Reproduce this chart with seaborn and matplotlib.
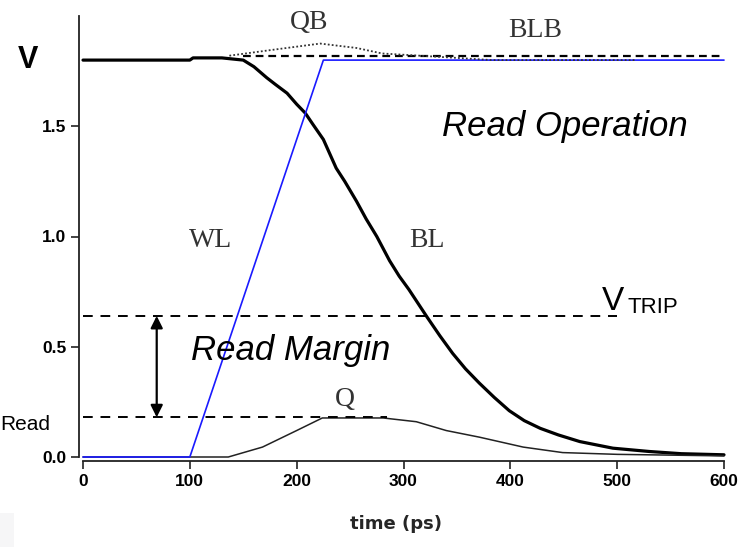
import matplotlib
matplotlib.use("Agg")
import matplotlib.pyplot as plt
import seaborn as sns
import pandas as pd

# --- data ---
wl_t = [0, 100, 225, 600]
wl_v = [0.0, 0.0, 1.80, 1.80]

bl_t = [0, 100, 103, 130, 150, 160, 172, 180, 191, 200, 208, 215, 225, 237, 245, 256,
        265, 275, 287, 296, 305, 322, 334, 346, 358, 371, 385, 399, 413, 428, 445,
        465, 496, 530, 560, 600]
bl_v = [1.80, 1.80, 1.81, 1.81, 1.80, 1.77, 1.72, 1.69, 1.65, 1.60, 1.56, 1.51, 1.44,
        1.31, 1.25, 1.16, 1.08, 1.00, 0.89, 0.82, 0.76, 0.635, 0.55, 0.47, 0.40, 0.335,
        0.27, 0.21, 0.165, 0.13, 0.10, 0.07, 0.04, 0.025, 0.015, 0.01]

q_t = [0, 136, 168, 200, 224, 281, 312, 340, 371, 412, 449, 500, 600]
q_v = [0.0, 0.0, 0.045, 0.12, 0.177, 0.177, 0.16, 0.12, 0.09, 0.045, 0.02, 0.012, 0.005]

qb_t = [137, 175, 222, 256, 280, 350, 383, 518]
qb_v = [1.82, 1.845, 1.875, 1.855, 1.83, 1.81, 1.80, 1.80]

blb_t = [150, 600]
blb_v = [1.82, 1.82]

v_trip = 0.64
v_read = 0.18
trip_end = 500
read_end = 285
arrow_t = 69

x_ticks = [0, 100, 200, 300, 400, 500, 600]
y_ticks = [0.0, 0.5, 1.0, 1.5]

sns.set_style("ticks")
plt.rcParams["font.family"] = ["Liberation Sans", "DejaVu Sans"]
plt.rcParams["text.color"] = "black"

fig = plt.figure(figsize=(7.39, 5.47), dpi=100)
ax = fig.add_axes([83 / 739, 1 - 457 / 547, 641 / 739, 441 / 547])

df_wl = pd.DataFrame({"t": wl_t, "v": wl_v})
df_bl = pd.DataFrame({"t": bl_t, "v": bl_v})
df_q = pd.DataFrame({"t": q_t, "v": q_v})
df_qb = pd.DataFrame({"t": qb_t, "v": qb_v})
df_blb = pd.DataFrame({"t": blb_t, "v": blb_v})

sns.lineplot(data=df_blb, x="t", y="v", ax=ax, color="black", lw=1.6,
             linestyle=(0, (3.5, 2.2)), clip_on=False)
sns.lineplot(data=df_bl, x="t", y="v", ax=ax, color="black", lw=2.3, clip_on=False)
sns.lineplot(data=df_q, x="t", y="v", ax=ax, color="#222222", lw=1.1, clip_on=False)
sns.lineplot(data=df_wl, x="t", y="v", ax=ax, color="#1a1aff", lw=1.2, clip_on=False)
sns.lineplot(data=df_qb, x="t", y="v", ax=ax, color="#333333", lw=1.3,
             linestyle=(0, (1, 1.2)), clip_on=False)

# reference levels
ax.plot([0, trip_end], [v_trip, v_trip], color="black", lw=1.4, ls=(0, (5, 4)), clip_on=False)
ax.plot([0, read_end], [v_read, v_read], color="black", lw=1.4, ls=(0, (5, 4)), clip_on=False)
ax.annotate("", xy=(arrow_t, v_read), xytext=(arrow_t, v_trip),
            arrowprops=dict(arrowstyle="<|-|>", color="black", lw=1.6,
                            mutation_scale=18, shrinkA=0, shrinkB=0))

ax.set_xlim(0, 600)
ax.set_ylim(0, 2.0)

# offset axes (Prism style) -- done before tick labels, set_position resets ticks
sns.despine(ax=ax)
for side in ["left", "bottom"]:
    ax.spines[side].set_position(("outward", 3))
    ax.spines[side].set_linewidth(1.3)
    ax.spines[side].set_color("#222222")
ax.spines["left"].set_bounds(0, 2.0)
ax.spines["bottom"].set_bounds(0, 600)

tick_font = dict(fontweight="bold", family="Liberation Sans", fontsize=12.5, color="black")
ax.set_xticks(x_ticks)
ax.set_xticklabels([str(t) for t in x_ticks], **tick_font)
ax.set_yticks(y_ticks)
ax.set_yticklabels([f"{v:.1f}" for v in y_ticks], **tick_font)
ax.tick_params(axis="both", direction="out", length=6, width=1.2, color="#222222", pad=3)
ax.set_xlabel("time (ps)", fontsize=13, fontweight="bold", family="DejaVu Sans")
ax.xaxis.set_label_coords((396 - 83) / 641, -(515 - 457) / 441)
ax.set_ylabel("")

# labels
serif = ["Liberation Serif", "DejaVu Serif"]
ax.text(212, 1.97, "QB", family=serif, fontsize=20, color="#333333", ha="center", va="center")
ax.text(423, 1.935, "BLB", family=serif, fontsize=20, color="#333333", ha="center", va="center")
ax.text(119, 0.98, "WL", family=serif, fontsize=20, color="#333333", ha="center", va="center")
ax.text(322, 0.98, "BL", family=serif, fontsize=20, color="#333333", ha="center", va="center")
ax.text(245, 0.26, "Q", family=serif, fontsize=20, color="#333333", ha="center", va="center")
ax.text(451, 1.50, "Read Operation", fontsize=25, style="italic", ha="center", va="center")
ax.text(194, 0.485, "Read Margin", fontsize=25, style="italic", ha="center", va="center")

fig.text(602 / 739, 1 - 310 / 547, "V", fontsize=24, ha="left", va="baseline")
fig.text(627 / 739, 1 - 313 / 547, "TRIP", fontsize=16, ha="left", va="baseline")
fig.text(0.0, 1 - 425 / 547, "Read", fontsize=15, ha="left", va="center")
fig.text(28 / 739, 1 - 60 / 547, "V", fontsize=22, fontweight="bold", ha="center", va="center")

fig.patches.append(plt.Rectangle((0, 0), 14 / 739, 34 / 547, transform=fig.transFigure,
                                 facecolor="#f6f6f7", edgecolor="none", zorder=0))

fig.savefig("out.png", dpi=100)
